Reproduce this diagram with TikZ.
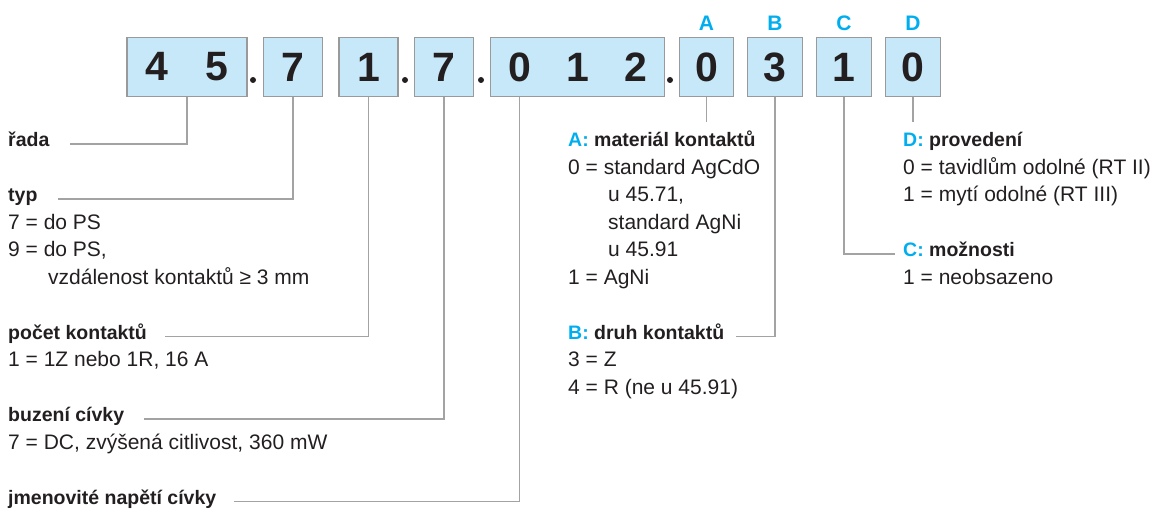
\documentclass[tikz,border=0pt]{standalone}
\usepackage{fontspec}
\setmainfont{Liberation Sans}
\usepackage{tikz}
\usetikzlibrary{positioning}

\definecolor{boxblue}{HTML}{C7E8F8}
\definecolor{boxgray}{HTML}{9A9A9A}
\definecolor{leadgray}{HTML}{A3A3A3}
\definecolor{keycyan}{HTML}{00AEEF}
\definecolor{inkblack}{HTML}{231F20}

\begin{document}
\begin{tikzpicture}[x=1pt, y=-1pt,
    digitbox/.style={rectangle, draw=boxgray, fill=boxblue, line width=1.3pt,
                  minimum height=59pt, inner sep=0pt, text=inkblack,
                  font=\fontsize{41}{41}\selectfont\bfseries},
    sepdot/.style={circle, fill=inkblack, inner sep=0pt, minimum size=6pt},
    keyletter/.style={text=keycyan, font=\fontsize{21}{21}\selectfont\bfseries},
    head/.style={anchor=mid west, inner sep=0pt, text=inkblack,
                 font=\fontsize{19.5}{19.5}\selectfont\bfseries},
    entry/.style={anchor=mid west, inner sep=0pt, text=inkblack,
                  font=\fontsize{21}{21}\selectfont},
    lead/.style={draw=leadgray, line width=1.2pt}
]
    \useasboundingbox (0,0) rectangle (1173,516);

    % === Code boxes ===
    \node[digitbox, minimum width=120pt] (b45) at (187,67) {\makebox[60pt]{4}\makebox[60pt]{5}};
    \node[sepdot] (dot1) at (253,80) {};
    \node[digitbox, minimum width=59pt] (b7a) at (293,67) {7};
    \node[digitbox, minimum width=59pt] (b1) at (368.5,67) {1};
    \node[sepdot] (dot2) at (405,80) {};
    \node[digitbox, minimum width=59pt] (b7b) at (444,67) {7};
    \node[sepdot] (dot3) at (481,80) {};
    \node[digitbox, minimum width=174pt] (b012) at (577.5,67) {\makebox[58pt]{0}\makebox[58pt]{1}\makebox[58pt]{2}};
    \node[sepdot] (dot4) at (670,80) {};
    \node[digitbox, minimum width=54.5pt] (bA) at (706.5,67) {0};
    \node[digitbox, minimum width=54.5pt] (bB) at (775,67) {3};
    \node[digitbox, minimum width=54.5pt] (bC) at (844,67) {1};
    \node[digitbox, minimum width=54.5pt] (bD) at (913,67) {0};

    % Key letters
    \node[keyletter] (keyA) at (706.5,23) {A};
    \node[keyletter] (keyB) at (775,23) {B};
    \node[keyletter] (keyC) at (844,23) {C};
    \node[keyletter] (keyD) at (913,23) {D};

    % === Left column ===
    \node[head] (rada) at (8,144) {řada};

    \node[head] (typ) at (8,199) {typ};
    \node[entry] (typ1) at (8,226.5) {7 = do PS};
    \node[entry] (typ2) at (8,254) {9 = do PS,};
    \node[entry] (typ3) at (48,281.5) {vzdálenost kontaktů ≥ 3 mm};

    \node[head] (pocet) at (8,336.5) {počet kontaktů};
    \node[entry] (pocet1) at (8,364) {1 = 1Z nebo 1R, 16 A};

    \node[head] (buzeni) at (8,419) {buzení cívky};
    \node[entry] (buzeni1) at (8,446.5) {7 = DC, zvýšená citlivost, 360 mW};

    \node[head] (jmen) at (8,501.5) {jmenovité napětí cívky};

    % === Right columns ===
    \node[head] (mat) at (568,144) {\textcolor{keycyan}{A:} materiál kontaktů};
    \node[entry] (mat1) at (568,171.5) {0 = standard AgCdO};
    \node[entry] (mat2) at (608,199) {u 45.71,};
    \node[entry] (mat3) at (608,226.5) {standard AgNi};
    \node[entry] (mat4) at (608,254) {u 45.91};
    \node[entry] (mat5) at (568,281.5) {1 = AgNi};

    \node[head] (druh) at (568,336.5) {\textcolor{keycyan}{B:} druh kontaktů};
    \node[entry] (druh1) at (568,364) {3 = Z};
    \node[entry] (druh2) at (568,391.5) {4 = R (ne u 45.91)};

    \node[head] (prov) at (903,144) {\textcolor{keycyan}{D:} provedení};
    \node[entry] (prov1) at (903,171.5) {0 = tavidlům odolné (RT II)};
    \node[entry] (prov2) at (903,199) {1 = mytí odolné (RT III)};

    \node[head] (moz) at (903,254) {\textcolor{keycyan}{C:} možnosti};
    \node[entry] (moz1) at (903,281.5) {1 = neobsazeno};

    % === Leader lines ===
    \coordinate (aend) at (706.5,122);
    \coordinate (dend) at (913,122);
    \draw[lead] (b45.south) |- ([xshift=20pt]rada.mid east);
    \draw[lead] (b7a.south) |- ([xshift=20pt]typ.mid east);
    \draw[lead] (b1.south) |- ([xshift=18pt]pocet.mid east);
    \draw[lead] (b7b.south) |- ([xshift=20pt]buzeni.mid east);
    \draw[lead] ([xshift=-58pt]b012.south) |- ([xshift=18pt]jmen.mid east);
    \draw[lead] (bA.south) -- (aend);
    \draw[lead] (bB.south) |- ([xshift=12pt]druh.mid east);
    \draw[lead] (bC.south) |- ([xshift=-8pt]moz.mid west);
    \draw[lead] (bD.south) -- (dend);

\end{tikzpicture}
\end{document}
